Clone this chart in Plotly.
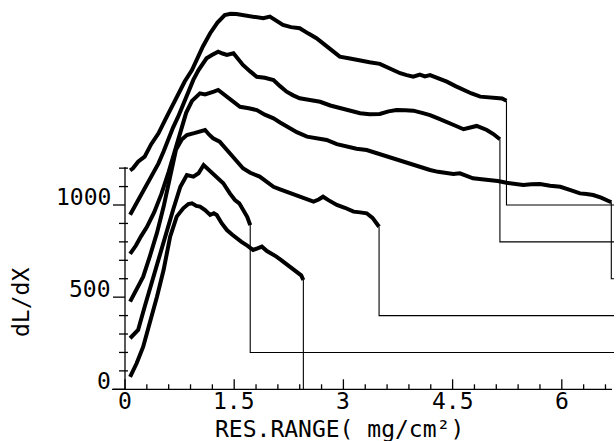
import plotly.graph_objects as go

# ---- data ----
c1_x = [0.07,0.16,0.25,0.34,0.44,0.53,0.62,0.71,0.80,0.87,0.92,0.98,1.03,1.10,1.17,1.22,1.26,1.33,1.40,1.47,1.53,1.60,1.68,1.76,1.82,1.88,1.95,2.02,2.08,2.15,2.22,2.29,2.36,2.42,2.45]
c1_y = [68,141,231,358,503,647,828,937,982,1005,1009,995,991,972,946,955,946,900,864,840,819,800,780,756,765,774,750,735,720,700,680,657,640,618,593]

c2_x = [0.07,0.18,0.27,0.39,0.48,0.57,0.66,0.76,0.85,0.94,1.01,1.08,1.14,1.21,1.28,1.35,1.44,1.51,1.57,1.63,1.68,1.72]
c2_y = [277,322,448,611,738,846,973,1099,1163,1154,1172,1217,1195,1172,1140,1118,1063,1027,1009,973,935,891]

c3_x = [0.07,0.16,0.25,0.34,0.44,0.53,0.62,0.70,0.78,0.85,0.95,1.03,1.10,1.16,1.21,1.30,1.37,1.44,1.53,1.62,1.72,1.85,1.95,2.04,2.13,2.22,2.31,2.40,2.50,2.59,2.66,2.72,2.80,2.91,3.02,3.14,3.23,3.32,3.40,3.49]
c3_y = [476,539,611,720,850,990,1150,1300,1355,1380,1390,1398,1407,1380,1362,1344,1310,1281,1240,1199,1175,1154,1125,1099,1085,1072,1060,1045,1030,1018,1030,1045,1025,1000,985,964,960,955,930,882]

c4_x = [0.07,0.15,0.22,0.30,0.40,0.50,0.60,0.68,0.76,0.84,0.92,0.98,1.03,1.10,1.17,1.22,1.28,1.34,1.40,1.49,1.58,1.70,1.81,1.92,2.04,2.13,2.22,2.36,2.50,2.63,2.77,2.91,3.05,3.18,3.32,3.42,3.50,3.62,3.73,3.85,3.96,4.08,4.19,4.30,4.42,4.51,4.60,4.69,4.78,4.90,5.01,5.12,5.24,5.35,5.47,5.58,5.70,5.84,5.98,6.11,6.25,6.34,6.43,6.54,6.62,6.68]
c4_y = [735,780,830,880,960,1060,1180,1290,1400,1500,1565,1588,1606,1600,1606,1615,1624,1605,1588,1560,1533,1525,1515,1490,1470,1448,1425,1395,1371,1360,1353,1330,1316,1305,1298,1285,1276,1262,1244,1230,1217,1203,1190,1180,1172,1168,1172,1160,1145,1140,1136,1130,1121,1115,1108,1112,1114,1105,1099,1082,1063,1060,1054,1040,1028,1015]

c5_x = [0.07,0.18,0.25,0.32,0.39,0.46,0.53,0.59,0.66,0.73,0.80,0.87,0.94,1.01,1.07,1.12,1.20,1.28,1.34,1.40,1.49,1.55,1.62,1.72,1.81,1.92,2.04,2.13,2.22,2.31,2.40,2.54,2.68,2.82,2.95,3.09,3.23,3.36,3.50,3.62,3.73,3.85,3.96,4.08,4.19,4.30,4.42,4.54,4.65,4.74,4.83,4.90,4.97,5.06,5.15]
c5_y = [947,1027,1070,1118,1170,1226,1290,1353,1420,1479,1550,1624,1680,1732,1770,1796,1815,1832,1822,1814,1823,1795,1760,1725,1696,1690,1678,1645,1615,1595,1579,1570,1560,1540,1525,1510,1498,1493,1494,1508,1515,1514,1512,1500,1488,1470,1452,1430,1411,1420,1429,1418,1407,1385,1357]

c6_x = [0.07,0.11,0.18,0.27,0.36,0.46,0.55,0.64,0.73,0.82,0.92,0.98,1.07,1.17,1.27,1.37,1.45,1.53,1.62,1.72,1.81,1.90,1.99,2.08,2.17,2.28,2.40,2.52,2.63,2.79,2.95,3.09,3.23,3.36,3.50,3.64,3.78,3.87,3.96,4.05,4.12,4.19,4.30,4.42,4.54,4.65,4.76,4.88,5.00,5.11,5.18,5.24]
c6_y = [1188,1199,1235,1262,1330,1389,1460,1533,1606,1670,1732,1787,1860,1932,1990,2031,2038,2036,2030,2022,2015,2013,2022,2000,1977,1965,1959,1930,1905,1855,1805,1795,1787,1775,1766,1740,1715,1705,1696,1708,1698,1705,1690,1669,1645,1624,1605,1588,1585,1584,1578,1566]

curves_x = [c1_x, c2_x, c3_x, c4_x, c5_x, c6_x]
curves_y = [c1_y, c2_y, c3_y, c4_y, c5_y, c6_y]
offsets = [0, 200, 400, 600, 800, 1000]   # baseline of each shifted curve
x_end = 6.72                              # right end of baselines
x_axis_end = 6.69
y_axis_top = 1206

x_major = [0, 1.5, 3, 4.5, 6]
x_major_text = ["0", "1.5", "3", "4.5", "6"]
x_minor = [0.3, 0.6, 0.9, 1.2, 1.8, 2.1, 2.4, 2.7, 3.3, 3.6, 3.9, 4.2, 4.8, 5.1, 5.4, 5.7, 6.3, 6.6]
y_major = [0, 500, 1000]
y_major_text = ["0", "500", "1000"]
y_minor = [100, 200, 300, 400, 600, 700, 800, 900, 1100, 1200]

# ---- layout geometry (pixels) ----
W, H = 616, 441
X0PX, PXU_X = 125.0, 72.8      # pixel of x=0, pixels per x unit
Y0PX, PXU_Y = 389.3, 0.1843    # pixel of y=0, pixels per y unit
L, R, T, B = 108, 614, 5, 396  # plot area box
xr = [(L - X0PX) / PXU_X, (R - X0PX) / PXU_X]
yr = [(Y0PX - B) / PXU_Y, (Y0PX - T) / PXU_Y]

def dx(px):  # pixel length -> x data length
    return px / PXU_X

def dy(px):  # pixel length -> y data length
    return px / PXU_Y

FONT = "DejaVu Sans Mono"
AX = dict(color="black", width=1.3)
fig = go.Figure()

for cx, cy, off in zip(curves_x, curves_y, offsets):
    fig.add_trace(go.Scatter(x=cx, y=cy, mode="lines",
                             line=dict(color="black", width=4),
                             hoverinfo="skip", showlegend=False))
    xe, ye = cx[-1], cy[-1]
    if off == 0:
        sx, sy = [xe, xe], [ye, off]
    else:
        sx, sy = [xe, xe, x_end], [ye, off, off]
    fig.add_trace(go.Scatter(x=sx, y=sy, mode="lines",
                             line=dict(color="black", width=1.1),
                             hoverinfo="skip", showlegend=False))

shapes = []
# axis lines
shapes.append(dict(type="line", xref="x", yref="y", x0=0, x1=0, y0=0, y1=y_axis_top, line=AX))
shapes.append(dict(type="line", xref="x", yref="y", x0=-dx(13), x1=x_axis_end, y0=0, y1=0, line=AX))
# x ticks (pointing up)
for t in x_major:
    shapes.append(dict(type="line", xref="x", yref="y", x0=t, x1=t, y0=0, y1=dy(10), line=AX))
for t in x_minor:
    shapes.append(dict(type="line", xref="x", yref="y", x0=t, x1=t, y0=0, y1=dy(5), line=AX))
# y ticks (pointing left)
for t in y_major:
    shapes.append(dict(type="line", xref="x", yref="y", x0=-dx(12), x1=0, y0=t, y1=t, line=AX))
for t in y_minor:
    shapes.append(dict(type="line", xref="x", yref="y", x0=-dx(6), x1=dx(3), y0=t, y1=t, line=AX))

annotations = []
for t, s in zip(x_major, x_major_text):
    annotations.append(dict(text=s, xref="x", yref="y", x=t, y=0, xanchor="center",
                            yanchor="top", yshift=3, showarrow=False,
                            font=dict(family=FONT, size=23, color="black")))
for t, s in zip(y_major, y_major_text):
    annotations.append(dict(text=s, xref="x", yref="y", x=0, y=t, xanchor="right",
                            yanchor="bottom", xshift=-12, yshift=-7, showarrow=False,
                            font=dict(family=FONT, size=23, color="black")))

def px_to_paper_x(p):
    return (p - L) / (R - L)

def py_to_paper_y(p):
    return (B - p) / (B - T)

annotations.append(dict(text="RES.RANGE( mg/cm²)", xref="paper", yref="paper",
                        x=px_to_paper_x(339), y=py_to_paper_y(429), xanchor="center",
                        yanchor="middle", showarrow=False,
                        font=dict(family=FONT, size=23, color="black")))
annotations.append(dict(text="dL/dX", xref="paper", yref="paper", textangle=-90,
                        x=px_to_paper_x(21), y=py_to_paper_y(303), xanchor="center",
                        yanchor="middle", showarrow=False,
                        font=dict(family=FONT, size=23, color="black")))

fig.update_layout(
    width=W, height=H,
    margin=dict(l=L, r=W - R, t=T, b=H - B, pad=0),
    paper_bgcolor="white", plot_bgcolor="white",
    xaxis=dict(range=xr, visible=False, fixedrange=True),
    yaxis=dict(range=yr, visible=False, fixedrange=True),
    shapes=shapes,
    annotations=annotations,
)

fig.write_html("out.html")
